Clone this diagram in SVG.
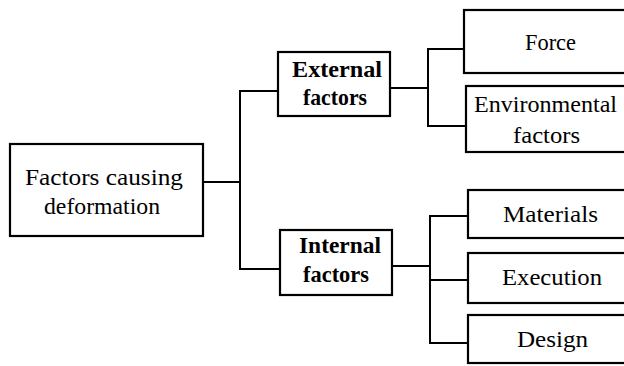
<svg xmlns="http://www.w3.org/2000/svg" width="624" height="366" viewBox="0 0 624 366">
<style>
.box{fill:#fff;stroke:#000;stroke-width:2.2}
.ln{fill:none;stroke:#000;stroke-width:2}
text{font-family:"Liberation Serif","Times New Roman",serif;font-size:23px;fill:#000}
.b{font-weight:bold}
</style>
<rect width="624" height="366" fill="#fff"/>
<g id="connectors">
<polyline class="ln" points="203,182 240,182"/>
<polyline class="ln" points="278,91 240,91 240,269 280,269"/>
<polyline class="ln" points="390,88 428,88"/>
<polyline class="ln" points="464,49 428,49 428,126 466,126"/>
<polyline class="ln" points="392,266 430,266"/>
<polyline class="ln" points="468,216 430,216 430,343 468,343"/>
<polyline class="ln" points="430,280 468,280"/>
</g>
<g id="root">
<rect class="box" x="10" y="144" width="193" height="92"/>
<text x="25" y="185" textLength="158" lengthAdjust="spacingAndGlyphs">Factors causing</text>
<text x="44" y="214" textLength="116" lengthAdjust="spacingAndGlyphs">deformation</text>
</g>
<g id="external">
<rect class="box" x="278" y="52" width="112" height="64"/>
<text class="b" x="292" y="77" textLength="90" lengthAdjust="spacingAndGlyphs">External</text>
<text class="b" x="303" y="105" textLength="64" lengthAdjust="spacingAndGlyphs">factors</text>
</g>
<g id="internal">
<rect class="box" x="280" y="230" width="112" height="65"/>
<text class="b" x="299" y="253" textLength="82" lengthAdjust="spacingAndGlyphs">Internal</text>
<text class="b" x="303" y="282" textLength="66" lengthAdjust="spacingAndGlyphs">factors</text>
</g>
<g id="force">
<rect class="box" x="464" y="10" width="180" height="63"/>
<text x="525" y="50" textLength="51" lengthAdjust="spacingAndGlyphs">Force</text>
</g>
<g id="environmental">
<rect class="box" x="466" y="86" width="180" height="66"/>
<text x="474" y="112" textLength="143" lengthAdjust="spacingAndGlyphs">Environmental</text>
<text x="513" y="143" textLength="67" lengthAdjust="spacingAndGlyphs">factors</text>
</g>
<g id="materials">
<rect class="box" x="468" y="190" width="180" height="48"/>
<text x="503" y="222" textLength="95" lengthAdjust="spacingAndGlyphs">Materials</text>
</g>
<g id="execution">
<rect class="box" x="468" y="253" width="180" height="50"/>
<text x="502" y="285" textLength="100" lengthAdjust="spacingAndGlyphs">Execution</text>
</g>
<g id="design">
<rect class="box" x="468" y="315" width="180" height="48"/>
<text x="517" y="347" textLength="71" lengthAdjust="spacingAndGlyphs">Design</text>
</g>
</svg>
